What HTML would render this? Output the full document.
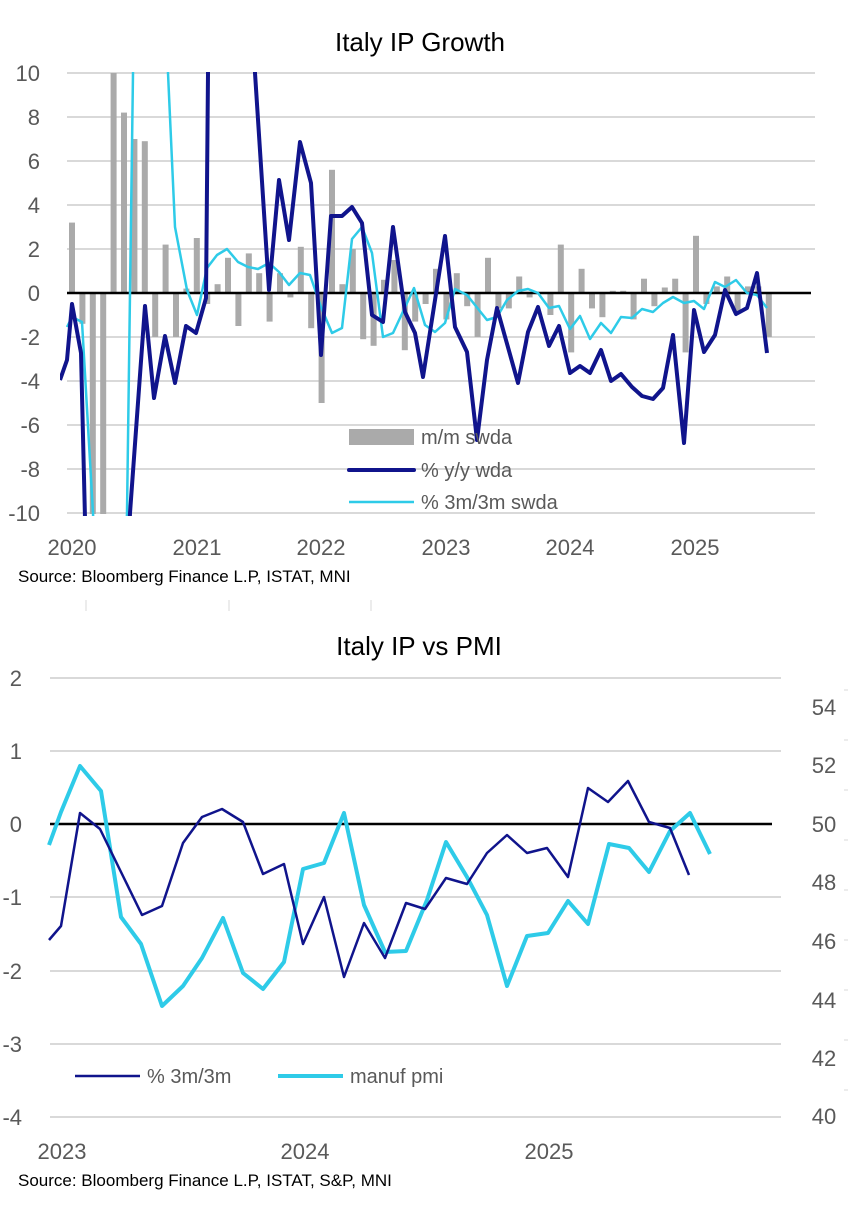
<!DOCTYPE html>
<html><head><meta charset="utf-8"><style>
body{margin:0;background:#fff;}
svg{display:block;font-family:"Liberation Sans",sans-serif;}
</style></head><body>
<svg width="848" height="1211" viewBox="0 0 848 1211" xmlns="http://www.w3.org/2000/svg">
<defs><clipPath id="c1"><rect x="60" y="72" width="760" height="444"/></clipPath></defs>
<text x="420" y="51" font-size="26" text-anchor="middle" fill="#000">Italy IP Growth</text>
<g stroke="#d9d9d9" stroke-width="2">
<line x1="67" y1="73" x2="815" y2="73"/><line x1="67" y1="117" x2="815" y2="117"/><line x1="67" y1="161" x2="815" y2="161"/><line x1="67" y1="205" x2="815" y2="205"/><line x1="67" y1="249" x2="815" y2="249"/><line x1="67" y1="337" x2="815" y2="337"/><line x1="67" y1="381" x2="815" y2="381"/><line x1="67" y1="425" x2="815" y2="425"/><line x1="67" y1="469" x2="815" y2="469"/><line x1="67" y1="513" x2="815" y2="513"/>
</g>
<g font-size="22" fill="#595959" text-anchor="end">
<text x="40" y="81">10</text><text x="40" y="125">8</text><text x="40" y="169">6</text><text x="40" y="213">4</text><text x="40" y="257">2</text><text x="40" y="301">0</text><text x="40" y="345">-2</text><text x="40" y="389">-4</text><text x="40" y="433">-6</text><text x="40" y="477">-8</text><text x="40" y="521">-10</text>
</g>
<g fill="#aaaaaa" clip-path="url(#c1)">
<rect x="69" y="222.6" width="6" height="70.4"/><rect x="79.4" y="293" width="6" height="30.8"/><rect x="89.8" y="293" width="6" height="221"/><rect x="100.2" y="293" width="6" height="221"/><rect x="110.6" y="73" width="6" height="220"/><rect x="121" y="112.6" width="6" height="180.4"/><rect x="131.4" y="139" width="6" height="154"/><rect x="141.8" y="141.2" width="6" height="151.8"/><rect x="152.2" y="293" width="6" height="44"/><rect x="162.6" y="244.6" width="6" height="48.4"/><rect x="173" y="293" width="6" height="44"/><rect x="183.4" y="288.6" width="6" height="4.4"/><rect x="193.8" y="238" width="6" height="55"/><rect x="204.2" y="293" width="6" height="11"/><rect x="214.6" y="284.2" width="6" height="8.8"/><rect x="225" y="257.8" width="6" height="35.2"/><rect x="235.4" y="293" width="6" height="33"/><rect x="245.8" y="253.4" width="6" height="39.6"/><rect x="256.2" y="273.2" width="6" height="19.8"/><rect x="266.6" y="293" width="6" height="28.6"/><rect x="277" y="273.2" width="6" height="19.8"/><rect x="287.4" y="293" width="6" height="4.4"/><rect x="297.8" y="246.8" width="6" height="46.2"/><rect x="308.2" y="293" width="6" height="35.2"/><rect x="318.6" y="293" width="6" height="110"/><rect x="329" y="169.8" width="6" height="123.2"/><rect x="339.4" y="284.2" width="6" height="8.8"/><rect x="349.8" y="249" width="6" height="44"/><rect x="360.2" y="293" width="6" height="46.2"/><rect x="370.6" y="293" width="6" height="52.8"/><rect x="381" y="279.8" width="6" height="13.2"/><rect x="391.4" y="260" width="6" height="33"/><rect x="401.8" y="293" width="6" height="57.2"/><rect x="412.2" y="293" width="6" height="28.6"/><rect x="422.6" y="293" width="6" height="11"/><rect x="433" y="268.8" width="6" height="24.2"/><rect x="443.4" y="293" width="6" height="26.4"/><rect x="453.8" y="273.2" width="6" height="19.8"/><rect x="464.2" y="293" width="6" height="13.2"/><rect x="474.6" y="293" width="6" height="44"/><rect x="485" y="257.8" width="6" height="35.2"/><rect x="495.4" y="293" width="6" height="15.4"/><rect x="505.8" y="293" width="6" height="15.4"/><rect x="516.2" y="276.5" width="6" height="16.5"/><rect x="526.6" y="293" width="6" height="4.4"/><rect x="547.4" y="293" width="6" height="22"/><rect x="557.8" y="244.6" width="6" height="48.4"/><rect x="568.2" y="293" width="6" height="59.4"/><rect x="578.6" y="268.8" width="6" height="24.2"/><rect x="589" y="293" width="6" height="15.4"/><rect x="599.4" y="293" width="6" height="24.2"/><rect x="609.8" y="290.8" width="6" height="2.2"/><rect x="620.2" y="290.8" width="6" height="2.2"/><rect x="630.6" y="293" width="6" height="26.4"/><rect x="641" y="278.7" width="6" height="14.3"/><rect x="651.4" y="293" width="6" height="13.2"/><rect x="661.8" y="287.5" width="6" height="5.5"/><rect x="672.2" y="278.7" width="6" height="14.3"/><rect x="682.6" y="293" width="6" height="59.4"/><rect x="693" y="235.8" width="6" height="57.2"/><rect x="703.4" y="293" width="6" height="11"/><rect x="713.8" y="286.4" width="6" height="6.6"/><rect x="724.2" y="276.5" width="6" height="16.5"/><rect x="734.6" y="293" width="6" height="19.8"/><rect x="745" y="286.4" width="6" height="6.6"/><rect x="755.4" y="286.4" width="6" height="6.6"/><rect x="765.8" y="293" width="6" height="44"/>
</g>
<line x1="67" y1="293" x2="811" y2="293" stroke="#000" stroke-width="2.5"/>
<g clip-path="url(#c1)" fill="none" stroke-linejoin="round">
<polyline stroke="#2ecbe8" stroke-width="2.5" points="67,327 72,317 82,322 93,513 96,600 124,600 127,513 133,73 134,-50 167,-50 168,73 175,227 187,290 197,315 207,268 217,255 227,249 238,262 248,267 258,269 269,263 279,272 289,285 300,273 310,275 321,307 332,333 342,328 352,239 362,227 372,253 383,337 393,333 414,288 425,325 435,332 445,323 455,289 467,295 487,320 497,317 507,300 518,291 528,289 538,293 549,308 559,306 570,329 580,316 590,339 601,323 611,333 621,317 632,318 642,309 653,312 663,303 673,297 684,303 694,301 704,309 715,282 725,287 736,280 747,293 757,295 767,308"/>
<polyline stroke="#10148c" stroke-width="4" points="60,380 67,360 72,304 81,353 86,560 128,560 130,513 145,306 154,398 165,336 175,383 186,326 196,333 206,298 208,73 209,-50 252,-50 255,73 269,290 279,180 289,240 300,142 311,183 321,355 331,216 342,216 352,207 362,223 372,315 383,322 393,227 405,312 415,333 423,377 445,236 455,327 467,352 477,440 487,360 497,308 518,383 528,332 538,307 549,346 559,326 570,373 580,366 590,373 601,350 611,381 621,374 632,387 642,396 653,399 663,388 673,335 684,443 694,310 704,352 715,335 725,290 736,314 747,308 757,273 767,353"/>
</g>
<rect x="349" y="429" width="65" height="16" fill="#aaaaaa"/>
<line x1="349" y1="470" x2="414" y2="470" stroke="#10148c" stroke-width="4" stroke-linecap="round"/>
<line x1="349" y1="502" x2="414" y2="502" stroke="#2ecbe8" stroke-width="2.5"/>
<g font-size="20" fill="#595959">
<text x="421" y="444">m/m swda</text><text x="421" y="477">% y/y wda</text><text x="421" y="509">% 3m/3m swda</text>
</g>
<g font-size="22" fill="#595959" text-anchor="middle">
<text x="72" y="555">2020</text><text x="197" y="555">2021</text><text x="321" y="555">2022</text><text x="446" y="555">2023</text><text x="570" y="555">2024</text><text x="695" y="555">2025</text>
</g>
<text x="18" y="582" font-size="17" fill="#000">Source: Bloomberg Finance L.P, ISTAT, MNI</text>
<g stroke="#d9d9d9" stroke-width="1"><line x1="86" y1="600" x2="86" y2="611"/><line x1="229" y1="600" x2="229" y2="611"/><line x1="371" y1="600" x2="371" y2="611"/></g>

<text x="419" y="655" font-size="26" text-anchor="middle" fill="#000">Italy IP vs PMI</text>
<g stroke="#d9d9d9" stroke-width="2">
<line x1="50" y1="678" x2="781" y2="678"/><line x1="50" y1="751" x2="781" y2="751"/><line x1="50" y1="897" x2="781" y2="897"/><line x1="50" y1="971" x2="781" y2="971"/><line x1="50" y1="1044" x2="781" y2="1044"/><line x1="50" y1="1117" x2="781" y2="1117"/>
</g>
<g stroke="#d9d9d9" stroke-width="1"><line x1="844" y1="690" x2="848" y2="690"/><line x1="844" y1="740" x2="848" y2="740"/><line x1="844" y1="790" x2="848" y2="790"/><line x1="844" y1="840" x2="848" y2="840"/><line x1="844" y1="890" x2="848" y2="890"/><line x1="844" y1="940" x2="848" y2="940"/><line x1="844" y1="990" x2="848" y2="990"/><line x1="844" y1="1040" x2="848" y2="1040"/><line x1="844" y1="1090" x2="848" y2="1090"/></g>
<line x1="50" y1="824" x2="772" y2="824" stroke="#000" stroke-width="2.5"/>
<g font-size="22" fill="#595959" text-anchor="end">
<text x="22" y="686">2</text><text x="22" y="759">1</text><text x="22" y="832">0</text><text x="22" y="905">-1</text><text x="22" y="979">-2</text><text x="22" y="1052">-3</text><text x="22" y="1125">-4</text>
</g>
<g font-size="22" fill="#595959" text-anchor="middle">
<text x="824" y="715">54</text><text x="824" y="773">52</text><text x="824" y="832">50</text><text x="824" y="890">48</text><text x="824" y="949">46</text><text x="824" y="1008">44</text><text x="824" y="1066">42</text><text x="824" y="1124">40</text>
</g>
<polyline fill="none" stroke="#2ecbe8" stroke-width="4" stroke-linejoin="round" points="49,845 61,812 80,766 101,791 121,917 141,944 162,1006 183,986 202,958 223,918 243,973 263,989 284,962 303,869 324,863 344,813 364,905 385,952 406,951 427,900 446,842 467,877 487,915 507,986 527,936 548,933 568,901 588,924 609,844 629,848 649,872 670,831 690,813 710,854"/>
<polyline fill="none" stroke="#10148c" stroke-width="2.5" stroke-linejoin="round" points="49,940 61,926 80,813 100,829 121,872 142,915 162,906 183,843 202,817 222,809 243,822 263,874 284,864 303,944 324,897 344,977 364,923 385,958 406,903 425,909 446,878 467,884 487,853 507,835 527,853 547,848 568,877 588,788 608,802 628,781 649,822 670,828 689,875"/>
<line x1="75" y1="1076" x2="140" y2="1076" stroke="#10148c" stroke-width="2.5"/>
<line x1="278" y1="1076" x2="343" y2="1076" stroke="#2ecbe8" stroke-width="4"/>
<g font-size="20" fill="#595959"><text x="147" y="1083">% 3m/3m</text><text x="350" y="1083">manuf pmi</text></g>
<g font-size="22" fill="#595959" text-anchor="middle">
<text x="62" y="1159">2023</text><text x="305" y="1159">2024</text><text x="549" y="1159">2025</text>
</g>
<text x="18" y="1186" font-size="17" fill="#000">Source: Bloomberg Finance L.P, ISTAT, S&amp;P,  MNI</text>
</svg>
</body></html>
